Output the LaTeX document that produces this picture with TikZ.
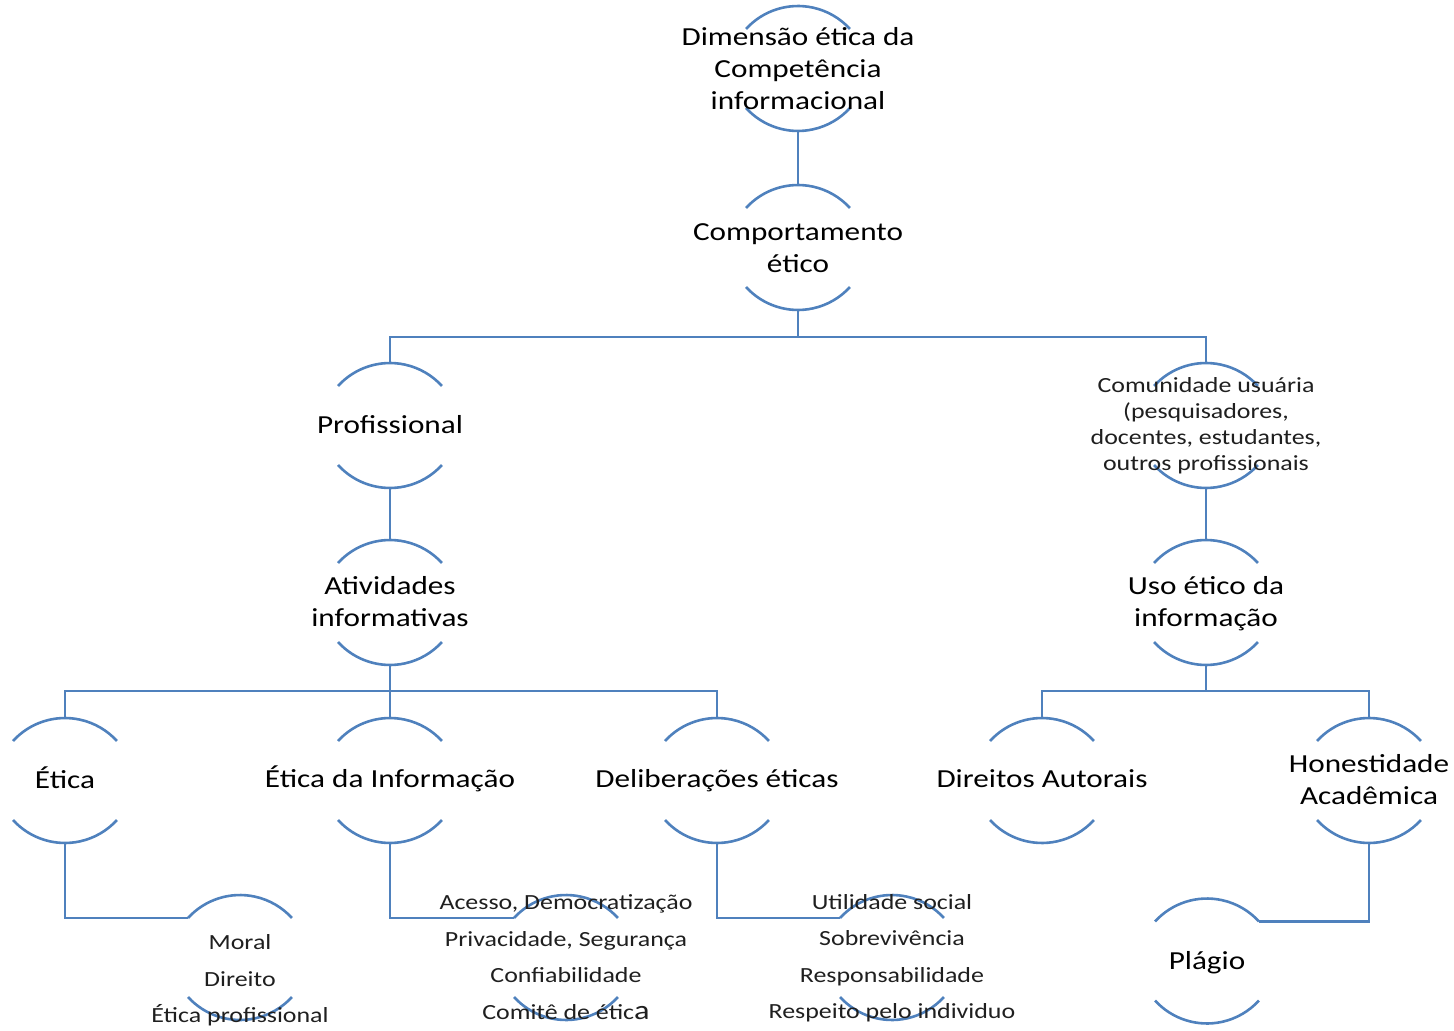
\documentclass[tikz,border=0pt]{standalone}
\usepackage{fontspec}
\setmainfont{Carlito}[FakeStretch=1.2]
\definecolor{lnblue}{RGB}{79,129,189}
\tikzset{
  lnk/.style={draw=lnblue, line width=1.3pt},
  ring/.style={rectangle, minimum width=52pt, minimum height=62.5pt, inner sep=0pt, outer sep=0pt},
  bigtxt/.style={align=center, inner sep=0pt, text=black, font=\fontsize{13}{16}\selectfont},
  smalltxt/.style={align=center, inner sep=0pt, text=black!88, font=\fontsize{10.8}{13}\selectfont},
  listtxt/.style={align=center, inner sep=0pt, text=black!88, font=\fontsize{10.8}{18.25}\selectfont}
}
\newcommand\ringarcs[1]{%
  \draw[lnk] ([yshift=-11.5pt]#1.north west) arc[start angle=137.7, end angle=42.3, radius=35.14pt];
  \draw[lnk] ([yshift=11.5pt]#1.south west) arc[start angle=222.3, end angle=317.7, radius=35.14pt];
}
\begin{document}
\begin{tikzpicture}[x=0.5pt, y=-0.5pt]
\useasboundingbox (0,0) rectangle (1454,1031);
% ring nodes
\node[ring] (n1) at (798,68.5) {};
\node[ring] (n2) at (798,247.5) {};
\node[ring] (n3) at (390,425.5) {};
\node[ring] (n4) at (1206,425.5) {};
\node[ring] (n5) at (390,602.5) {};
\node[ring] (n6) at (1206,602.5) {};
\node[ring] (n7) at (65,780.5) {};
\node[ring] (n8) at (390,780.5) {};
\node[ring] (n9) at (717,780.5) {};
\node[ring] (n10) at (1042,780.5) {};
\node[ring] (n11) at (1369,780.5) {};
\node[ring] (n12) at (240,957.5) {};
\node[ring] (n13) at (566,957.5) {};
\node[ring] (n14) at (892,957.5) {};
\node[ring] (n15) at (1207,961) {};
\foreach \r in {n1,n2,n3,n4,n5,n6,n7,n8,n9,n10,n11,n12,n13,n14,n15}{\ringarcs{\r}}
% bus points
\coordinate (b1) at (798,337);
\coordinate (b2) at (390,691);
\coordinate (b3) at (1206,691);
% connectors
\draw[lnk] (n1.south) -- (n2.north);
\draw[lnk] (n2.south) -- (b1);
\draw[lnk] (n3.north) |- (b1) -| (n4.north);
\draw[lnk] (n3.south) -- (n5.north);
\draw[lnk] (n4.south) -- (n6.north);
\draw[lnk] (n5.south) -- (b2);
\draw[lnk] (n7.north) |- (b2) -| (n9.north);
\draw[lnk] (b2) -- (n8.north);
\draw[lnk] (n6.south) -- (b3);
\draw[lnk] (n10.north) |- (b3) -| (n11.north);
\draw[lnk] (n7.south) |- ([yshift=-11.5pt]n12.north west);
\draw[lnk] (n8.south) |- ([yshift=-11.5pt]n13.north west);
\draw[lnk] (n9.south) |- ([yshift=-11.5pt]n14.north west);
\draw[lnk] (n11.south) |- ([yshift=-11.5pt]n15.north east);
% texts
\node[bigtxt] (t1) at (798,69) {Dimensão ética da\\Competência\\informacional};
\node[bigtxt] (t2) at (798,248) {Comportamento\\ético};
\node[bigtxt] (t3) at (390,425) {Profissional};
\node[smalltxt] (t4) at (1206,425.5) {Comunidade usuária\\(pesquisadores,\\docentes, estudantes,\\outros profissionais};
\node[bigtxt] (t5) at (390,602) {Atividades\\informativas};
\node[bigtxt] (t6) at (1206,604) {Uso ético da\\informação};
\node[bigtxt] (t7) at (65,778) {Ética};
\node[bigtxt] (t8) at (390,779) {Ética da Informação};
\node[bigtxt] (t9) at (717,781) {Deliberações éticas};
\node[bigtxt] (t10) at (1042,779) {Direitos Autorais};
\node[bigtxt] (t11) at (1369,780) {Honestidade\\Acadêmica};
\node[listtxt] (t12) at (240,980.5) {Moral\\Direito\\Ética profissional};
\node[listtxt] (t13) at (566,957) {Acesso, Democratização\\Privacidade, Segurança\\Confiabilidade\\Comitê de étic{\fontsize{13.5}{18.25}\selectfont a}};
\node[listtxt] (t14) at (892,958) {Utilidade social\\Sobrevivência\\Responsabilidade\\Respeito pelo individuo};
\node[bigtxt] (t15) at (1207,963) {Plágio};
\end{tikzpicture}
\end{document}
